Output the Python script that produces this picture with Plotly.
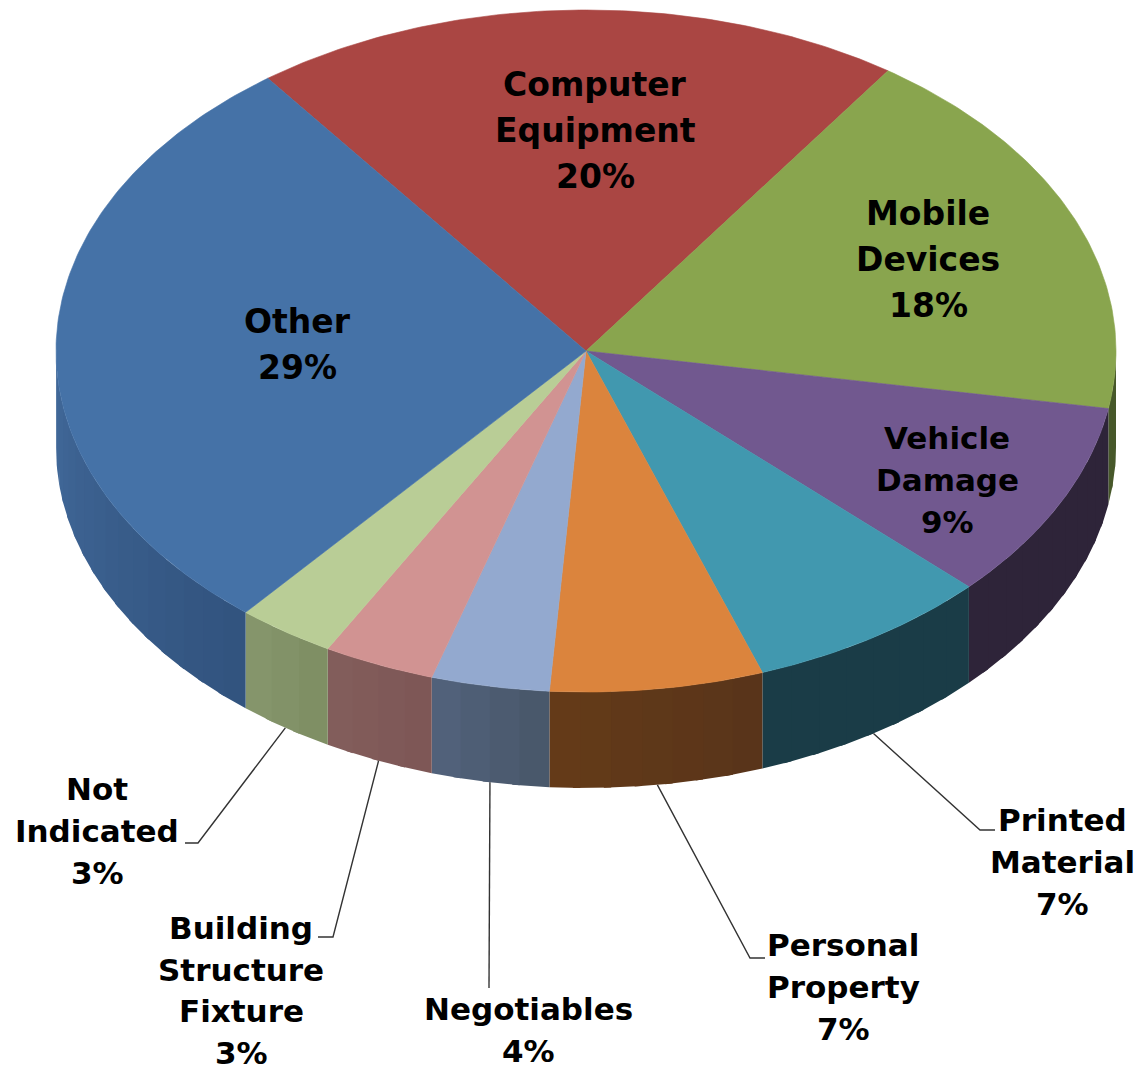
import math
import plotly.graph_objects as go

# Data (share of incidents, clockwise from "Computer Equipment")
categories = ["Computer Equipment", "Mobile Devices", "Vehicle Damage", "Printed Material",
              "Personal Property", "Negotiables", "Building Structure Fixture", "Not Indicated", "Other"]
values = [19.9, 18.05, 9.45, 7.45, 6.5, 3.6, 3.4, 3.0, 28.65]
percent_labels = ["20%", "18%", "9%", "7%", "7%", "4%", "3%", "3%", "29%"]

# Styles
top_colors = ["#aa4643", "#89a54e", "#71588f", "#4198af", "#db843d", "#93a9cf", "#d19392", "#b9cd96", "#4572a7"]
wall_left = ["#6a2a28", "#47582a", "#2e2439", "#1a3c47", "#653b18", "#52637c", "#835e5c", "#87976d", "#41699a"]
wall_right = ["#6a2a28", "#47582a", "#2e2439", "#1a3c47", "#58341a", "#485669", "#7d5655", "#7d8d62", "#32537e"]

# Geometry of the tilted disc, in page pixels
CX, CY, RX, RY, DEPTH = 586, 351, 530, 341, 96
START_DEG = -36.9
INK = "#000000"
LEADER = "#333333"


def point(deg, drop=0.0):
    a = math.radians(deg)
    return CX + RX * math.sin(a), CY - RY * math.cos(a) + drop


def arc(a0, a1, drop=0.0, step=0.75):
    n = max(2, int(abs(a1 - a0) / step) + 1)
    return [point(a0 + (a1 - a0) * i / (n - 1), drop) for i in range(n)]


def mix(c0, c1, t):
    p = [int(c0[i:i + 2], 16) for i in (1, 3, 5)]
    q = [int(c1[i:i + 2], 16) for i in (1, 3, 5)]
    return "rgb(%d,%d,%d)" % tuple(round(u + (v - u) * t) for u, v in zip(p, q))


total = sum(values)
edges = [START_DEG]
for v in values:
    edges.append(edges[-1] + v / total * 360)

fig = go.Figure()


def poly(pts, color, width=0.6):
    fig.add_trace(go.Scatter(x=[p[0] for p in pts], y=[p[1] for p in pts], mode="lines",
                             fill="toself", fillcolor=color, line=dict(color=color, width=width),
                             hoverinfo="skip", showlegend=False))


# Side wall: only the front half of the disc shows
for i in range(len(values)):
    a0, a1 = max(edges[i], 90), min(edges[i + 1], 270)
    if a1 <= a0:
        continue
    strips = max(1, int((a1 - a0) / 3))
    for s in range(strips):
        b0 = a0 + (a1 - a0) * s / strips
        b1 = a0 + (a1 - a0) * (s + 1) / strips
        # overlap the next strip a little so no seam shows between neighbours
        b1x = min(a1, b1 + 0.8)
        # wall shading runs left to right on screen, i.e. against the clockwise angle
        t = 1 - (s + 0.5) / strips
        poly(arc(b0, b1x) + arc(b1x, b0, DEPTH), mix(wall_left[i], wall_right[i], t), width=0)

# Top face
for i in range(len(values)):
    pts = [(CX, CY)] + arc(edges[i], edges[i + 1]) + [(CX, CY)]
    poly(pts, top_colors[i])

# Leader lines, starting at the middle of each slice's lower rim
elbows = {
    "Printed Material": [(980, 830), (995, 830)],
    "Personal Property": [(750, 958), (765, 958)],
    "Negotiables": [(489, 988)],
    "Building Structure Fixture": [(333, 937), (318, 937)],
    "Not Indicated": [(198, 843), (185, 843)],
}
for name, tail in elbows.items():
    i = categories.index(name)
    start = point((edges[i] + edges[i + 1]) / 2, DEPTH)
    pts = [start] + tail
    fig.add_trace(go.Scatter(x=[p[0] for p in pts], y=[p[1] for p in pts], mode="lines",
                             line=dict(color=LEADER, width=1.4), hoverinfo="skip", showlegend=False))

# Labels: line breaks, first line centre, line gap, font size
placements = {
    "Computer Equipment": (["Computer", "Equipment"], 595, 84, 46, 33),
    "Mobile Devices": (["Mobile", "Devices"], 928, 213, 46, 33),
    "Other": (["Other"], 297, 321, 46, 33),
    "Vehicle Damage": (["Vehicle", "Damage"], 947, 438, 42, 31),
    "Printed Material": (["Printed", "Material"], 1062, 820, 42, 31),
    "Personal Property": (["Personal", "Property"], 843, 945, 42, 31),
    "Negotiables": (["Negotiables"], 528, 1009, 42, 31),
    "Building Structure Fixture": (["Building", "Structure", "Fixture"], 241, 928, 41.5, 31),
    "Not Indicated": (["Not", "Indicated"], 97, 789, 42, 31),
}
for i, name in enumerate(categories):
    lines, x, y, gap, size = placements[name]
    for k, line in enumerate(lines + [percent_labels[i]]):
        fig.add_annotation(x=x, y=y + k * gap, text="<b>%s</b>" % line, showarrow=False,
                           xanchor="center", yanchor="middle",
                           font=dict(family="DejaVu Sans", size=size, color=INK))

fig.update_layout(
    width=1141, height=1071, margin=dict(l=0, r=0, t=0, b=0),
    paper_bgcolor="#ffffff", plot_bgcolor="#ffffff", showlegend=False,
    xaxis=dict(range=[0, 1141], visible=False, fixedrange=True),
    yaxis=dict(range=[1071, 0], visible=False, fixedrange=True),
)
fig.write_html("out.html", config={"displayModeBar": False},
               post_script="document.body.style.margin='0';document.documentElement.style.overflow='hidden';")
